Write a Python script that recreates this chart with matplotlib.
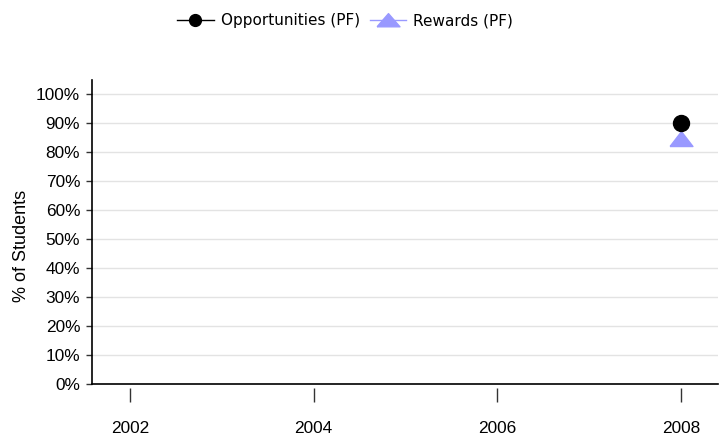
import matplotlib
matplotlib.use("Agg")
import matplotlib.pyplot as plt
from matplotlib.ticker import FuncFormatter
from matplotlib.lines import Line2D

years = [2008]
opportunities = [90]
rewards = [85]
xticks = [2002, 2004, 2006, 2008]
yticks = list(range(0, 101, 10))

tri = [(-1, -0.7), (1, -0.7), (0, 0.6), (-1, -0.7)]
tri_leg = [(-1, -0.55), (1, -0.55), (0, 0.6), (-1, -0.55)]
purple = "#9999ff"

fig = plt.figure(figsize=(7.27, 4.36), dpi=100)
ax = fig.add_axes([92/727, 52/436, 626/727, 304/436])

ax.set_xlim(2001.587, 2008.40)
ax.set_ylim(-0.05, 105)

for y in yticks:
    ax.axhline(y, color="#e3e3e3", lw=1, zorder=0)

ax.plot(years, opportunities, color="black", marker="o", markersize=11.5, lw=1,
        zorder=3)
ax.plot(years, rewards, color=purple, marker=tri, markersize=16.5, lw=1,
        zorder=2)

ax.set_xticks(xticks)
ax.set_yticks(yticks)
ax.yaxis.set_major_formatter(FuncFormatter(lambda v, p: f"{int(v)}%"))

for s in ["top", "right"]:
    ax.spines[s].set_visible(False)
ax.spines["bottom"].set_position(("outward", 3))
ax.spines["bottom"].set_visible(False)
ax.plot([0, 1], [0, 0], transform=ax.transAxes, color="black", lw=1.2, clip_on=False)
ax.spines["left"].set_linewidth(1.2)

ax.tick_params(axis="x", length=10, width=1, color="#333333", pad=13.5, labelsize=12.4,
               labelfontfamily="Liberation Sans")
ax.tick_params(axis="y", length=4.5, width=1, color="#333333", pad=4, labelsize=12.4,
               labelfontfamily="Liberation Sans")
fig.text(21.5/727, 1 - 245.7/436, "% of Students", rotation=90, ha="center",
         va="center", fontsize=13, family="Liberation Sans")

handles = [
    Line2D([], [], color="black", lw=1, marker="o", markersize=8.5),
    Line2D([], [], color=purple, lw=1, marker=tri_leg, markersize=16.5),
]
fig.legend(handles, ["Opportunities (PF)", "Rewards (PF)"], loc="center",
           bbox_to_anchor=(345/727, 1 - 20.5/436), ncol=2, frameon=False,
           fontsize=11, handlelength=2.4, columnspacing=0.65, handletextpad=0.45,
           borderpad=0, borderaxespad=0)

fig.savefig("out.png", dpi=100)
